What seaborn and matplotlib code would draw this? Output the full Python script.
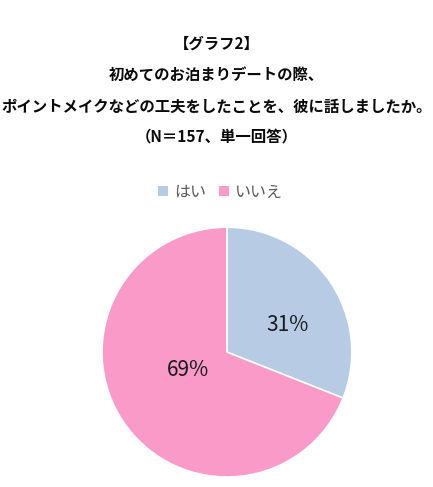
"""Pie chart: graph 2, did you tell him about your makeup effort."""
import matplotlib
matplotlib.use('Agg')
import numpy as np
import matplotlib.pyplot as plt
import seaborn as sns
from matplotlib.patches import Patch

labels = ['はい', 'いいえ']
shares = [31, 69]
colors = ['#B7CCE4', '#F99AC8']
title_lines = ['【グラフ2】',
               '初めてのお泊まりデートの際、',
               'ポイントメイクなどの工夫をしたことを、彼に話しましたか。',
               '（N＝157、単一回答）']

sns.set_theme(style='white')
plt.rcParams['font.family'] = ['Noto Sans CJK JP', 'DejaVu Sans']

fig = plt.figure(figsize=(4.33, 4.87), dpi=100)
ax = fig.add_axes([0.2356, 0.0205, 0.577, 0.513])
wedges, texts, autotexts = ax.pie(
    shares, colors=colors, startangle=90, counterclock=False,
    autopct='%d%%', pctdistance=0.5,
    wedgeprops={'edgecolor': 'white', 'linewidth': 1.2},
    textprops={'fontsize': 15, 'color': '#1a1a1a'})
# Excel-like label placement: a bit clockwise from the wedge middle
for w, t, r in zip(wedges, autotexts, [0.535, 0.345]):
    ang = np.deg2rad((w.theta1 + w.theta2) / 2 - 10)
    t.set_position((r * np.cos(ang), r * np.sin(ang)))
ax.set_xlim(-1, 1)
ax.set_ylim(-1, 1)
ax.set_aspect('equal')

ys = [0.911, 0.846, 0.781, 0.720]
for txt, y in zip(title_lines, ys):
    fig.text(0.5, y, txt, ha='center', va='center', fontsize=11.1,
             fontweight='bold', color='#0a0a0a')

handles = [Patch(facecolor=c, edgecolor='none') for c in colors]
fig.legend(handles, labels, loc='center', bbox_to_anchor=(0.51, 0.605),
           ncol=2, frameon=False, fontsize=11.5, labelcolor='#595959',
           handlelength=0.6, handleheight=0.6, handletextpad=0.4,
           columnspacing=0.8)

fig.savefig('out.png', dpi=100)
